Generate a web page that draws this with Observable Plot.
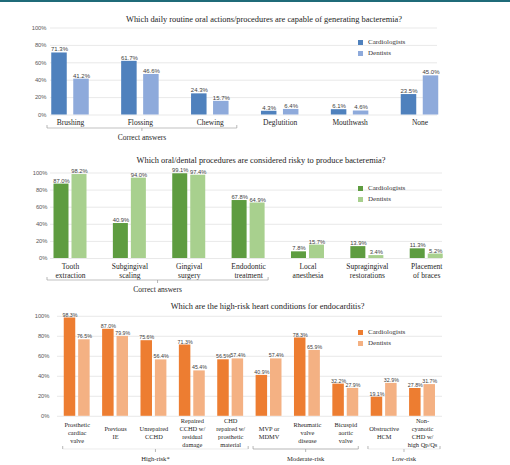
<!DOCTYPE html>
<html><head><meta charset="utf-8">
<script src="https://cdn.jsdelivr.net/npm/d3@7"></script>
<script src="https://cdn.jsdelivr.net/npm/@observablehq/plot@0.6"></script>
<style>
body{margin:0;background:#fff;}
#root{position:relative;width:510px;height:465px;overflow:hidden;background:#fff;}
.topline{position:absolute;left:0;top:0;width:510px;height:1.5px;background:#1f6b79;}
.panel{position:absolute;left:0;width:510px;}
.panel svg{display:block;overflow:visible;}
.title{position:absolute;font-family:"Liberation Serif","Times New Roman",serif;font-size:8.4px;color:#222;white-space:nowrap;transform:translate(-50%,-50%);line-height:10px;}
.leg{position:absolute;font-family:"Liberation Serif","Times New Roman",serif;font-size:7px;color:#333;display:flex;align-items:center;height:10px;white-space:nowrap;transform:translateY(-50%);}
.sw{width:5px;height:5px;margin-right:5px;}
</style></head><body><div id="root"><div class="topline"></div></div>
<script>
// ---------- DATA ----------
const seriesNames = ["Cardiologists", "Dentists"];
const yTicks = [0, 20, 40, 60, 80, 100];

const q1Title = "Which daily routine oral actions/procedures are capable of generating bacteremia?";
const q1Categories = ["Brushing", "Flossing", "Chewing", "Deglutition", "Mouthwash", "None"];
const q1Labels = ["Brushing", "Flossing", "Chewing", "Deglutition", "Mouthwash", "None"];
const q1Cardiologists = [71.3, 61.7, 24.3, 4.3, 6.1, 23.5];
const q1Dentists = [41.2, 46.6, 15.7, 6.4, 4.6, 45.0];
const q1Groups = [{from: "Brushing", to: "Chewing", label: "Correct answers"}];

const q2Title = "Which oral/dental procedures are considered risky to produce bacteremia?";
const q2Categories = ["Tooth extraction", "Subgingival scaling", "Gingival surgery", "Endodontic treatment", "Local anesthesia", "Supragingival restorations", "Placement of braces"];
const q2Labels = ["Tooth\nextraction", "Subgingival\nscaling", "Gingival\nsurgery", "Endodontic\ntreatment", "Local\nanesthesia", "Supragingival\nrestorations", "Placement\nof braces"];
const q2Cardiologists = [87.0, 40.9, 99.1, 67.8, 7.8, 13.9, 11.3];
const q2Dentists = [98.2, 94.0, 97.4, 64.9, 15.7, 3.4, 5.2];
const q2Groups = [{from: "Tooth extraction", to: "Endodontic treatment", label: "Correct answers"}];

const q3Title = "Which are the high-risk heart conditions for endocarditis?";
const q3Categories = ["Prosthetic cardiac valve", "Previous IE", "Unrepaired CCHD", "Repaired CCHD w/ residual damage", "CHD repaired w/ prosthetic material", "MVP or MDMV", "Rheumatic valve disease", "Bicuspid aortic valve", "Obstructive HCM", "Non-cyanotic CHD w/ high Qp/Qs"];
const q3Labels = ["Prosthetic\ncardiac\nvalve", "Previous\nIE", "Unrepaired\nCCHD", "Repaired\nCCHD w/\nresidual\ndamage", "CHD\nrepaired w/\nprosthetic\nmaterial", "MVP or\nMDMV", "Rheumatic\nvalve\ndisease", "Bicuspid\naortic\nvalve", "Obstructive\nHCM", "Non-\ncyanotic\nCHD w/\nhigh Qp/Qs"];
const q3Cardiologists = [98.3, 87.0, 75.6, 71.3, 56.5, 40.9, 78.3, 32.2, 19.1, 27.8];
const q3Dentists = [76.5, 79.9, 56.4, 45.4, 57.4, 57.4, 65.9, 27.9, 32.9, 31.7];
const q3Groups = [
  {from: "Prosthetic cardiac valve", to: "CHD repaired w/ prosthetic material", label: "High-risk*"},
  {from: "MVP or MDMV", to: "Bicuspid aortic valve", label: "Moderate-risk"},
  {from: "Obstructive HCM", to: "Non-cyanotic CHD w/ high Qp/Qs", label: "Low-risk"}
];

// ---------- LAYOUT / STYLE ----------
const SERIF = "Liberation Serif, Times New Roman, serif";
const SANS = "Liberation Sans, Arial, sans-serif";

const panels = [
  {title: q1Title, cats: q1Categories, labels: q1Labels, card: q1Cardiologists, dent: q1Dentists, groups: q1Groups,
   top: 0, height: 150, base: 114.5, topPx: 27.5, ml: 50, mr: 73, first: 70, step: 69.9, barW: 15.5, off: 11,
   colors: ["#4f81bd", "#8eaadb"], valFont: 6, labelFont: 7.5, labelLH: 1.2, labelDy: 7.2, yDx: -4,
   titleX: 264, titleY: 20, legY: [42, 53], brY: 128, brLabelY: 137.3, brFont: 7.5,
   pads: [[23, 27]], brLine: ["#a6a6a6"]},
  {title: q2Title, cats: q2Categories, labels: q2Labels, card: q2Cardiologists, dent: q2Dentists, groups: q2Groups,
   top: 150, height: 150, base: 108, topPx: 22.5, ml: 50, mr: 68, first: 70, step: 59.37, barW: 15, off: 9,
   colors: ["#5e9c40", "#a8d08e"], valFont: 5.8, labelFont: 7.5, labelLH: 1.24, labelDy: 12.3, yDx: -3,
   titleX: 261, titleY: 11, legY: [38, 49], brY: 130, brLabelY: 139.5, brFont: 7.5,
   pads: [[23, 20]], brLine: ["#a6a6a6"]},
  {title: q3Title, cats: q3Categories, labels: q3Labels, card: q3Cardiologists, dent: q3Dentists, groups: q3Groups,
   top: 300, height: 165, base: 115.8, topPx: 15.8, ml: 57, mr: 68, first: 76.7, step: 38.37, barW: 11.5, off: 7.2,
   colors: ["#ed7d31", "#f4b183"], valFont: 5.3, labelFont: 6.4, labelLH: 1.22, labelDy: 16, yDx: -8,
   titleX: 267.5, titleY: 6.7, legY: [32, 43], brY: 149, brLabelY: 158, brFont: 6.6,
   pads: [[14, 18], [15.5, 13], [15.7, 18]], brLine: ["#e4e4e4", "#9a9a9a", "#e4e4e4"]}
];

const root = document.getElementById("root");

function drawPanel(cfg) {
  const rows = cfg.cats.map((c, i) => ({cat: c, label: cfg.labels[i], card: cfg.card[i], dent: cfg.dent[i]}));
  const half = cfg.step / 2;
  const insC = {insetLeft: half - cfg.off - cfg.barW / 2, insetRight: half + cfg.off - cfg.barW / 2};
  const insD = {insetLeft: half + cfg.off - cfg.barW / 2, insetRight: half - cfg.off - cfg.barW / 2};
  const x0 = cfg.first - half;
  const valStyle = {fontFamily: SANS, fontSize: cfg.valFont, fill: "#404040", lineAnchor: "bottom", dy: -1.5};
  const plot = Plot.plot({
    width: 510, height: cfg.height,
    marginTop: cfg.topPx, marginBottom: cfg.height - cfg.base, marginLeft: cfg.ml, marginRight: cfg.mr,
    x: {type: "band", domain: cfg.cats, range: [x0, x0 + cfg.cats.length * cfg.step], padding: 0, round: false, axis: null},
    y: {domain: [0, 100], axis: null},
    style: {background: "transparent", overflow: "visible"},
    marks: [
      Plot.ruleY(yTicks, {stroke: "#e0e0e0", strokeWidth: 0.7}),
      Plot.barY(rows, {x: "cat", y: "card", fill: cfg.colors[0], ...insC}),
      Plot.barY(rows, {x: "cat", y: "dent", fill: cfg.colors[1], ...insD}),
      Plot.text(rows, {x: "cat", y: "card", text: d => d.card.toFixed(1) + "%", dx: -cfg.off, ...valStyle}),
      Plot.text(rows, {x: "cat", y: "dent", text: d => d.dent.toFixed(1) + "%", dx: cfg.off, ...valStyle}),
      Plot.text(yTicks, {y: d => d, text: d => d + "%", frameAnchor: "left", textAnchor: "end", dx: cfg.yDx,
        fontFamily: SANS, fontSize: 5.8, fill: "#595959"}),
      Plot.text(rows, {x: "cat", text: "label", frameAnchor: "bottom", lineAnchor: "middle", dy: cfg.labelDy,
        lineHeight: cfg.labelLH, fontFamily: SERIF, fontSize: cfg.labelFont, fill: "#262626"})
    ]
  });

  // group brackets positioned with the plot's own x scale
  const xs = plot.scale("x");
  const center = v => xs.apply(v) + xs.bandwidth / 2;
  const g = d3.select(plot).append("g").attr("fill", "none").attr("stroke-width", 0.7);
  cfg.groups.forEach((grp, i) => {
    const [pl, pr] = cfg.pads[i];
    const a = center(grp.from) - pl, b = center(grp.to) + pr, m = (a + b) / 2, y = cfg.brY;
    g.append("path").attr("d", `M${a},${y}H${b}`).attr("stroke", cfg.brLine[i]);
    g.append("path").attr("d", `M${a},${y - 3}V${y}M${b},${y - 3}V${y}M${m},${y}V${y + 3}`).attr("stroke", "#9a9a9a");
    d3.select(plot).append("text").attr("x", m).attr("y", cfg.brLabelY).attr("text-anchor", "middle")
      .attr("dominant-baseline", "central").attr("font-family", SERIF).attr("font-size", cfg.brFont)
      .attr("fill", "#262626").text(grp.label);
  });

  const div = document.createElement("div");
  div.className = "panel";
  div.style.top = cfg.top + "px";
  div.style.height = cfg.height + "px";
  div.appendChild(plot);
  root.appendChild(div);

  const t = document.createElement("div");
  t.className = "title";
  t.style.left = cfg.titleX + "px";
  t.style.top = (cfg.top + cfg.titleY) + "px";
  t.textContent = cfg.title;
  root.appendChild(t);

  seriesNames.forEach((s, i) => {
    const l = document.createElement("div");
    l.className = "leg";
    l.style.left = "358px";
    l.style.top = (cfg.top + cfg.legY[i]) + "px";
    l.innerHTML = `<span class="sw" style="background:${cfg.colors[i]}"></span>${s}`;
    root.appendChild(l);
  });
}

panels.forEach(drawPanel);
</script></body></html>
